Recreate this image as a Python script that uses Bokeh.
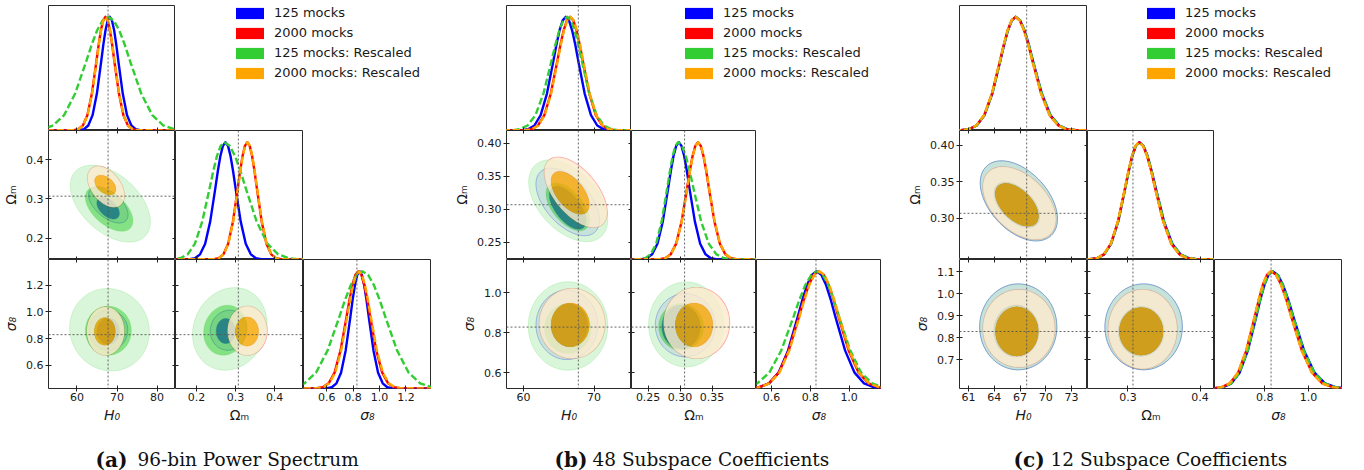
import numpy as np
from bokeh.plotting import figure
from bokeh.models import (Range1d, LinearAxis, FixedTicker, Span, Legend, LegendItem,
                          ColumnDataSource, Spacer, PrintfTickFormatter)
from bokeh.layouts import row, column
from bokeh.embed import file_html
from bokeh.resources import INLINE
from bokeh.core.properties import value

# ------------------------------------------------------------------ data
LEGEND_LABELS = ["125 mocks", "2000 mocks", "125 mocks: Rescaled", "2000 mocks: Rescaled"]
SERIES = ["blue", "red", "green", "orange"]
TITLE_TAGS = ["(a)", "(b)", "(c)"]
TITLE_TEXTS = ["96-bin Power Spectrum", "48 Subspace Coefficients", "12 Subspace Coefficients"]
FID_H0, FID_OM, FID_S8 = 67.77, 0.307, 0.829

# 1D marginals: x positions (per curve) at which each curve reaches these heights
H_LEVELS = [0.0, 0.002, 0.011, 0.044, 0.135, 0.325, 0.607, 0.755, 0.882, 0.969, 1.0,
            0.969, 0.882, 0.755, 0.607, 0.325, 0.135, 0.044, 0.011, 0.002, 0.0]

# (a) 96-bin power spectrum
a_h0_blue = [40, 60.68, 61.75, 62.83, 63.9, 64.98, 66.05, 66.59, 67.13, 67.66, 68.2, 68.74, 69.28, 69.82, 70.35, 71.43, 72.5, 73.58, 74.65, 75.73, 95]
a_h0_red = [40, 59.23, 60.35, 61.48, 62.6, 63.73, 64.85, 65.42, 65.98, 66.54, 67.1, 67.67, 68.23, 68.79, 69.35, 70.48, 71.6, 72.73, 73.85, 74.98, 95]
a_h0_green = [30, 48.55, 51.3, 54.05, 56.8, 59.55, 62.3, 63.68, 65.05, 66.43, 67.8, 69.18, 70.55, 71.93, 73.3, 76.05, 78.8, 81.55, 84.3, 87.05, 100]
a_h0_orange = [40, 59.28, 60.4, 61.53, 62.65, 63.78, 64.9, 65.47, 66.03, 66.59, 67.15, 67.72, 68.28, 68.84, 69.4, 70.53, 71.65, 72.78, 73.9, 75.03, 95]
a_om_blue = [0.05, 0.183, 0.196, 0.209, 0.222, 0.235, 0.248, 0.2545, 0.261, 0.2675, 0.274, 0.2805, 0.287, 0.2935, 0.300, 0.313, 0.326, 0.339, 0.352, 0.365, 0.6]
a_om_red = [0.05, 0.2443, 0.2565, 0.2688, 0.281, 0.2933, 0.3055, 0.3117, 0.3178, 0.3239, 0.330, 0.3362, 0.3423, 0.3484, 0.3545, 0.3668, 0.379, 0.3913, 0.4035, 0.4158, 0.6]
a_om_green = [0.05, 0.1394, 0.1582, 0.177, 0.1958, 0.2146, 0.2334, 0.2428, 0.2522, 0.2616, 0.271, 0.2848, 0.2986, 0.3124, 0.3262, 0.3538, 0.3814, 0.409, 0.4366, 0.4642, 0.6]
a_om_orange = [0.05, 0.2448, 0.257, 0.2693, 0.2815, 0.2938, 0.306, 0.3122, 0.3183, 0.3244, 0.3305, 0.3367, 0.3428, 0.3489, 0.355, 0.3673, 0.3795, 0.3918, 0.404, 0.4163, 0.6]
a_s8_blue = [0.2, 0.604, 0.639, 0.674, 0.709, 0.744, 0.779, 0.7965, 0.814, 0.8315, 0.849, 0.8665, 0.884, 0.9015, 0.919, 0.954, 0.989, 1.024, 1.059, 1.094, 1.6]
a_s8_red = [0.2, 0.525, 0.570, 0.615, 0.660, 0.705, 0.750, 0.7725, 0.795, 0.8175, 0.840, 0.8625, 0.885, 0.9075, 0.930, 0.975, 1.020, 1.065, 1.110, 1.155, 1.6]
a_s8_green = [0.1, 0.2575, 0.345, 0.4325, 0.52, 0.6075, 0.695, 0.7388, 0.7825, 0.8263, 0.87, 0.9138, 0.9575, 1.0013, 1.045, 1.1325, 1.22, 1.3075, 1.395, 1.4825, 1.7]
a_s8_orange = [0.2, 0.53, 0.575, 0.62, 0.665, 0.71, 0.755, 0.7775, 0.8, 0.8225, 0.845, 0.8675, 0.89, 0.9125, 0.935, 0.98, 1.025, 1.07, 1.115, 1.16, 1.6]

# (b) 48 subspace coefficients
b_h0_blue = [50, 59.77, 60.66, 61.55, 62.44, 63.33, 64.22, 64.67, 65.11, 65.56, 66.0, 66.45, 66.89, 67.34, 67.78, 68.67, 69.56, 70.45, 71.34, 72.23, 85]
b_h0_red = [50, 60.23, 61.14, 62.05, 62.96, 63.87, 64.78, 65.24, 65.69, 66.15, 66.6, 67.06, 67.51, 67.97, 68.42, 69.33, 70.24, 71.15, 72.06, 72.97, 85]
b_h0_green = [50, 58.33, 59.45, 60.58, 61.7, 62.83, 63.95, 64.52, 65.08, 65.64, 66.2, 66.72, 67.24, 67.76, 68.28, 69.32, 70.36, 71.4, 72.44, 73.48, 85]
b_h0_orange = [50, 60.28, 61.19, 62.1, 63.01, 63.92, 64.83, 65.29, 65.74, 66.2, 66.65, 67.11, 67.56, 68.02, 68.47, 69.38, 70.29, 71.2, 72.11, 73.02, 85]
b_om_blue = [0.15, 0.2396, 0.2479, 0.2563, 0.2646, 0.273, 0.2813, 0.2855, 0.2897, 0.2939, 0.298, 0.3022, 0.3064, 0.3106, 0.3147, 0.3231, 0.3314, 0.3398, 0.3481, 0.3565, 0.5]
b_om_red = [0.15, 0.2682, 0.2767, 0.2853, 0.2938, 0.3024, 0.3109, 0.3152, 0.3195, 0.3238, 0.328, 0.3323, 0.3366, 0.3409, 0.3451, 0.3537, 0.3622, 0.3708, 0.3793, 0.3879, 0.5]
b_om_green = [0.15, 0.2368, 0.2454, 0.254, 0.2626, 0.2712, 0.2798, 0.2841, 0.2884, 0.2927, 0.297, 0.303, 0.309, 0.315, 0.3209, 0.3329, 0.3448, 0.3568, 0.3687, 0.3807, 0.5]
b_om_orange = [0.15, 0.2685, 0.277, 0.2856, 0.2941, 0.3027, 0.3112, 0.3155, 0.3198, 0.3241, 0.3283, 0.3326, 0.3369, 0.3412, 0.3454, 0.354, 0.3625, 0.3711, 0.3796, 0.3882, 0.5]
b_s8_blue = [0.3, 0.489, 0.538, 0.587, 0.636, 0.685, 0.734, 0.7585, 0.783, 0.8075, 0.832, 0.8565, 0.881, 0.9055, 0.930, 0.979, 1.028, 1.077, 1.126, 1.175, 1.4]
b_s8_red = [0.3, 0.4825, 0.534, 0.5855, 0.637, 0.6885, 0.740, 0.7658, 0.7915, 0.8173, 0.843, 0.8688, 0.8945, 0.9203, 0.946, 0.9975, 1.049, 1.1005, 1.152, 1.2035, 1.4]
b_s8_green = [0.2, 0.402, 0.464, 0.526, 0.588, 0.650, 0.712, 0.743, 0.774, 0.805, 0.836, 0.8643, 0.8925, 0.9208, 0.949, 1.0055, 1.062, 1.1185, 1.175, 1.2315, 1.4]
b_s8_orange = [0.3, 0.4855, 0.537, 0.5885, 0.64, 0.6915, 0.743, 0.7688, 0.7945, 0.8203, 0.846, 0.8718, 0.8975, 0.9233, 0.949, 1.0005, 1.052, 1.1035, 1.155, 1.2065, 1.4]

# (c) 12 subspace coefficients
c_h0_blue = [50, 60.13, 61.04, 61.95, 62.86, 63.77, 64.68, 65.14, 65.59, 66.05, 66.5, 67.01, 67.51, 68.02, 68.52, 69.53, 70.54, 71.55, 72.56, 73.57, 85]
c_h0_red = [50, 60.1, 61.01, 61.92, 62.83, 63.74, 64.65, 65.11, 65.56, 66.02, 66.47, 66.97, 67.47, 67.97, 68.46, 69.46, 70.45, 71.45, 72.44, 73.44, 85]
c_h0_green = [50, 60.12, 61.03, 61.94, 62.85, 63.76, 64.67, 65.13, 65.58, 66.04, 66.49, 67.0, 67.5, 68.01, 68.51, 69.52, 70.53, 71.54, 72.55, 73.56, 85]
c_h0_orange = [50, 60.08, 60.99, 61.9, 62.81, 63.72, 64.63, 65.09, 65.54, 66.0, 66.45, 66.95, 67.45, 67.95, 68.44, 69.44, 70.43, 71.43, 72.42, 73.42, 85]
c_om_blue = [0.2, 0.2476, 0.2573, 0.2671, 0.2768, 0.2866, 0.2963, 0.3012, 0.3061, 0.311, 0.3158, 0.3215, 0.3272, 0.3329, 0.3386, 0.35, 0.3614, 0.3728, 0.3842, 0.3956, 0.5]
c_om_red = [0.2, 0.2473, 0.257, 0.2668, 0.2765, 0.2863, 0.296, 0.3009, 0.3058, 0.3107, 0.3155, 0.3211, 0.3267, 0.3323, 0.3378, 0.349, 0.3601, 0.3713, 0.3824, 0.3936, 0.5]
c_om_green = [0.2, 0.2475, 0.2572, 0.267, 0.2767, 0.2865, 0.2962, 0.3011, 0.306, 0.3109, 0.3157, 0.3214, 0.3271, 0.3328, 0.3385, 0.3499, 0.3613, 0.3727, 0.3841, 0.3955, 0.5]
c_om_orange = [0.2, 0.2471, 0.2568, 0.2666, 0.2763, 0.2861, 0.2958, 0.3007, 0.3056, 0.3105, 0.3153, 0.3209, 0.3265, 0.3321, 0.3376, 0.3488, 0.3599, 0.3711, 0.3822, 0.3934, 0.5]
c_s8_blue = [0.4, 0.5721, 0.6098, 0.6475, 0.6852, 0.7229, 0.7606, 0.7795, 0.7983, 0.8172, 0.836, 0.86, 0.884, 0.908, 0.932, 0.980, 1.028, 1.076, 1.124, 1.172, 1.3]
c_s8_red = [0.4, 0.5651, 0.6028, 0.6405, 0.6782, 0.7159, 0.7536, 0.7725, 0.7913, 0.8102, 0.829, 0.8525, 0.8759, 0.8994, 0.9228, 0.9697, 1.0166, 1.0635, 1.1104, 1.1573, 1.3]
c_s8_green = [0.4, 0.5711, 0.6088, 0.6465, 0.6842, 0.7219, 0.7596, 0.7785, 0.7973, 0.8162, 0.835, 0.859, 0.883, 0.907, 0.931, 0.979, 1.027, 1.075, 1.123, 1.171, 1.3]
c_s8_orange = [0.4, 0.5641, 0.6018, 0.6395, 0.6772, 0.7149, 0.7526, 0.7715, 0.7903, 0.8092, 0.828, 0.8515, 0.8749, 0.8984, 0.9218, 0.9687, 1.0156, 1.0625, 1.1094, 1.1563, 1.3]

# 2D credible regions: [outer 95%, inner 68%], each [centre x, centre y, half-extent x, half-extent y, correlation]
a21_blue = [[67.83, 0.2849, 4.93, 0.0461, -0.55], [67.78, 0.2766, 2.8, 0.0277, -0.48]]
a21_red = [[67.25, 0.331, 4.58, 0.0521, -0.43], [67.08, 0.3353, 2.68, 0.0252, -0.42]]
a21_green = [[68.33, 0.2879, 10.0, 0.0977, -0.47], [68.03, 0.2743, 5.95, 0.0567, -0.53]]
a21_orange = [[67.25, 0.331, 4.58, 0.0521, -0.43], [67.08, 0.3353, 2.68, 0.0252, -0.42]]
a31_blue = [[67.88, 0.8623, 4.8, 0.15, 0.0], [67.8, 0.855, 2.8, 0.1, 0.0]]
a31_red = [[67.15, 0.856, 4.67, 0.1815, 0.0], [66.95, 0.8533, 2.63, 0.104, 0.0]]
a31_green = [[68.13, 0.866, 9.95, 0.309, -0.05], [67.83, 0.8585, 5.75, 0.1838, 0.0]]
a31_orange = [[67.15, 0.856, 4.67, 0.1815, 0.0], [66.95, 0.8533, 2.63, 0.104, 0.0]]
a32_blue = [[0.282, 0.8623, 0.0469, 0.15, 0.05], [0.2749, 0.8563, 0.0244, 0.0938, 0.0]]
a32_red = [[0.33, 0.8585, 0.0505, 0.1838, 0.0], [0.3292, 0.8525, 0.03, 0.11, 0.0]]
a32_green = [[0.2851, 0.872, 0.0954, 0.31, 0.13], [0.2736, 0.8623, 0.0556, 0.1876, 0.1]]
a32_orange = [[0.33, 0.8585, 0.0505, 0.1838, 0.0], [0.3292, 0.8525, 0.03, 0.11, 0.0]]

b21_blue = [[66.27, 0.3113, 4.5, 0.0513, -0.53], [66.27, 0.3025, 2.6, 0.0326, -0.6]]
b21_red = [[67.4, 0.3258, 4.44, 0.0532, -0.57], [66.62, 0.325, 2.72, 0.0326, -0.55]]
b21_green = [[66.34, 0.313, 5.6, 0.062, -0.46], [66.27, 0.3038, 3.08, 0.0363, -0.55]]
b21_orange = [[67.4, 0.3258, 4.44, 0.0532, -0.57], [66.62, 0.325, 2.72, 0.0326, -0.55]]
b31_blue = [[66.15, 0.84, 4.37, 0.1735, 0.0], [66.5, 0.8385, 2.6, 0.1083, 0.0]]
b31_red = [[66.9, 0.847, 4.65, 0.175, 0.0], [66.62, 0.84, 2.72, 0.11, 0.0]]
b31_green = [[66.31, 0.8345, 5.63, 0.221, 0.0], [66.27, 0.822, 3.3, 0.125, 0.0]]
b31_orange = [[66.9, 0.847, 4.65, 0.175, 0.0], [66.62, 0.84, 2.72, 0.11, 0.0]]
b32_blue = [[0.3081, 0.8385, 0.0469, 0.1583, 0.0], [0.3016, 0.83, 0.03, 0.1083, 0.0]]
b32_red = [[0.3258, 0.8495, 0.0516, 0.1775, 0.0], [0.3219, 0.84, 0.0294, 0.11, 0.0]]
b32_green = [[0.3094, 0.8425, 0.0586, 0.2125, 0.0], [0.3016, 0.83, 0.0352, 0.1167, 0.0]]
b32_orange = [[0.3258, 0.8495, 0.0516, 0.1775, 0.0], [0.3219, 0.84, 0.0294, 0.11, 0.0]]

c21_blue = [[66.86, 0.324, 4.49, 0.0546, -0.45], [66.63, 0.3186, 2.67, 0.0311, -0.51]]
c21_red = [[66.92, 0.3209, 4.24, 0.0495, -0.45], [66.63, 0.3186, 2.52, 0.0294, -0.52]]
c21_green = [[66.86, 0.324, 4.49, 0.0546, -0.45], [66.63, 0.3186, 2.64, 0.0308, -0.51]]
c21_orange = [[66.92, 0.3209, 4.24, 0.0495, -0.45], [66.63, 0.3186, 2.52, 0.0294, -0.52]]
c31_blue = [[66.79, 0.85, 4.49, 0.195, 0.0], [66.57, 0.831, 2.64, 0.118, 0.0]]
c31_red = [[66.86, 0.843, 4.18, 0.176, 0.0], [66.63, 0.829, 2.5, 0.112, 0.0]]
c31_green = [[66.79, 0.85, 4.49, 0.195, 0.0], [66.57, 0.831, 2.62, 0.117, 0.0]]
c31_orange = [[66.86, 0.843, 4.18, 0.176, 0.0], [66.63, 0.829, 2.5, 0.112, 0.0]]
c32_blue = [[0.3218, 0.85, 0.0536, 0.195, 0.0], [0.3184, 0.8295, 0.0318, 0.1135, 0.0]]
c32_red = [[0.3204, 0.8395, 0.0476, 0.18, 0.0], [0.3184, 0.8295, 0.0304, 0.1084, 0.0]]
c32_green = [[0.3218, 0.85, 0.0536, 0.195, 0.0], [0.3184, 0.8295, 0.0316, 0.113, 0.0]]
c32_orange = [[0.3204, 0.8395, 0.0476, 0.18, 0.0], [0.3184, 0.8295, 0.0304, 0.1084, 0.0]]

# axis ranges, ticks and tick labels
a_ranges = {"h0": (52.9, 84.6), "om": (0.146, 0.474), "s8": (0.425, 1.393)}
b_ranges = {"h0": (57.6, 75.3), "om": (0.224, 0.4195), "s8": (0.522, 1.167)}
c_ranges = {"h0": (59.95, 74.85), "om": (0.244, 0.420), "s8": (0.570, 1.156)}
a_ticks = {"h0": [60, 70, 80], "omx": [0.2, 0.3, 0.4], "omy": [0.2, 0.3, 0.4],
           "s8x": [0.6, 0.8, 1.0, 1.2], "s8y": [0.6, 0.8, 1.0, 1.2]}
a_labels = {"h0": ["60", "70", "80"], "omx": ["0.2", "0.3", "0.4"], "omy": ["0.2", "0.3", "0.4"],
            "s8x": ["0.6", "0.8", "1.0", "1.2"], "s8y": ["0.6", "0.8", "1.0", "1.2"]}
b_ticks = {"h0": [60, 70], "omx": [0.25, 0.30, 0.35], "omy": [0.25, 0.30, 0.35, 0.40],
           "s8x": [0.6, 0.8, 1.0], "s8y": [0.6, 0.8, 1.0]}
b_labels = {"h0": ["60", "70"], "omx": ["0.25", "0.30", "0.35"], "omy": ["0.25", "0.30", "0.35", "0.40"],
            "s8x": ["0.6", "0.8", "1.0"], "s8y": ["0.6", "0.8", "1.0"]}
c_ticks = {"h0": [61, 64, 67, 70, 73], "omx": [0.3, 0.4], "omy": [0.30, 0.35, 0.40],
           "s8x": [0.8, 1.0], "s8y": [0.7, 0.8, 0.9, 1.0, 1.1]}
c_labels = {"h0": ["61", "64", "67", "70", "73"], "omx": ["0.3", "0.4"], "omy": ["0.30", "0.35", "0.40"],
            "s8x": ["0.8", "1.0"], "s8y": ["0.7", "0.8", "0.9", "1.0", "1.1"]}

# ------------------------------------------------------------------ styles / layout
LINE_COLORS = {"blue": "#0000ff", "red": "#ff0000", "green": "#32cd32", "orange": "#ffa500"}
LINE_DASH = {"blue": "solid", "red": "solid", "green": "7 3", "orange": "7 3"}
OUTER_FILL = {"blue": ("#9999ff", 0.35), "red": (None, 0), "green": ("#adebad", 0.45), "orange": ("#fcebcd", 0.8)}
INNER_FILL = {"blue": ("#0000ff", 0.9), "red": (None, 0), "green": ("#32cd32", 0.6), "orange": ("#ffa500", 0.78)}
EDGE = {"blue": ("#0000ff", 0.55, 0.8), "red": ("#ff0000", 0.4, 1.2), "green": ("#32cd32", 0.3, 0.6), "orange": (None, 0, 0)}

FH, TOP, BOT = 129, 1, 45
DIAG_Y = (0.0, 1.1)
INK = "#1a1a1a"
H0_LABEL, OM_LABEL, S8_LABEL = "H\u2080", "\u03a9\u2098", "\u03c3\u2088"
T = np.linspace(0.0, 2.0 * np.pi, 121)


def make_fig(xr, yr, w, h, left=0, top=0, bottom=0):
    p = figure(width=w, height=h, x_range=Range1d(*xr), y_range=Range1d(*yr),
               x_axis_type=None, y_axis_type=None, toolbar_location=None,
               output_backend="svg", min_border_left=left, min_border_right=0,
               min_border_top=top, min_border_bottom=bottom)
    p.outline_line_color = "#2a2a2a"
    p.outline_line_width = 1
    p.background_fill_color = "white"
    p.border_fill_color = "white"
    return p


def axis(p, side, ticks, labels=None, title=None, italic=False, fixed=None, out=0):
    ax = LinearAxis(ticker=FixedTicker(ticks=list(ticks)))
    ax.axis_line_color = None
    ax.major_tick_line_color = "#222222"
    ax.major_tick_line_width = 1
    ax.major_tick_in = 3
    ax.major_tick_out = out
    ax.minor_tick_line_color = None
    if labels is None:
        ax.major_label_text_color = None
        ax.major_label_text_font_size = "0px"
        ax.major_label_standoff = 0
    else:
        dec = max((len(s.split(".")[1]) if "." in s else 0) for s in labels)
        ax.formatter = PrintfTickFormatter(format="%%.%df" % dec)
        ax.major_label_overrides = {float(t): s for t, s in zip(ticks, labels)}
        ax.major_label_text_font = "DejaVu Sans"
        ax.major_label_text_font_size = "11px"
        ax.major_label_text_color = INK
        ax.major_label_standoff = 2 if side == "left" else 1
    if title is not None:
        ax.axis_label = title
        ax.axis_label_text_font = "DejaVu Sans"
        ax.axis_label_text_font_size = "14px"
        ax.axis_label_text_font_style = "italic" if italic else "normal"
        ax.axis_label_text_color = INK
        ax.axis_label_standoff = 4 if side == "left" else 3
    if fixed is not None:
        ax.fixed_location = fixed
    p.add_layout(ax, side)


def spans(p, vx=None, hy=None):
    if vx is not None:
        p.add_layout(Span(location=vx, dimension="height", line_color="#555555",
                          line_width=0.9, line_dash="2 2"))
    if hy is not None:
        p.add_layout(Span(location=hy, dimension="width", line_color="#555555",
                          line_width=0.9, line_dash="2 2"))


def draw_1d(p, curves):
    for s in SERIES:
        p.line(x=curves[s], y=H_LEVELS, line_color=LINE_COLORS[s], line_width=2.4,
               line_dash=LINE_DASH[s], line_join="round")


def ring(c):
    cx, cy, wx, wy, rho = c
    xs = cx + wx * np.cos(T)
    ys = cy + wy * (rho * np.cos(T) + np.sqrt(1.0 - rho ** 2) * np.sin(T))
    return list(xs), list(ys)


def draw_2d(p, cont):
    for s in SERIES:
        outer, inner = cont[s]
        ox, oy = ring(outer)
        ix, iy = ring(inner)
        lc, la, lw = EDGE[s]
        fc, fa = OUTER_FILL[s]
        p.multi_polygons(xs=[[[ox, ix[::-1]]]], ys=[[[oy, iy[::-1]]]],
                         fill_color=fc, fill_alpha=fa,
                         line_color=lc, line_alpha=la, line_width=max(lw, 0.1))
        fc, fa = INNER_FILL[s]
        if fc is not None:
            p.multi_polygons(xs=[[[ix]]], ys=[[[iy]]], fill_color=fc, fill_alpha=fa,
                             line_color=None)


def legend_fig(w, h, left, top):
    p = figure(width=w, height=h, x_range=Range1d(0, 1), y_range=Range1d(0, 1),
               x_axis_type=None, y_axis_type=None, toolbar_location=None,
               output_backend="svg", min_border_left=left, min_border_right=0,
               min_border_top=top, min_border_bottom=0)
    p.outline_line_color = None
    items = []
    for lab, s in zip(LEGEND_LABELS, SERIES):
        # zero-area proxy renderer: only its legend swatch is shown
        src = ColumnDataSource(dict(left=[0.0], right=[0.0], top=[0.0], bottom=[0.0]))
        r = p.quad(left="left", right="right", top="top", bottom="bottom", source=src,
                   fill_color=LINE_COLORS[s], line_color=None)
        items.append(LegendItem(label=lab, renderers=[r]))
    leg = Legend(items=items, location="top_left", margin=0, padding=0,
                 glyph_width=35, glyph_height=14, label_standoff=7, spacing=5,
                 label_height=15, label_text_font="DejaVu Sans",
                 label_text_font_size="13px", label_text_color=INK,
                 border_line_color=None, background_fill_alpha=0)
    p.add_layout(leg)
    return p


def build_corner(rng, tk, lab, curves, cont, widths, L, leg_left):
    w1, w2, w3 = widths
    h0r, omr, s8r = rng["h0"], rng["om"], rng["s8"]
    # row 1
    d0 = make_fig(h0r, DIAG_Y, L + w1, TOP + FH, left=L, top=TOP)
    draw_1d(d0, curves["h0"])
    spans(d0, vx=FID_H0)
    axis(d0, "below", tk["h0"], fixed=DIAG_Y[0])
    leg = legend_fig(w2 + w3, TOP + FH, leg_left, 5)
    # row 2
    p10 = make_fig(h0r, omr, L + w1, FH, left=L)
    draw_2d(p10, cont["p10"])
    spans(p10, vx=FID_H0, hy=FID_OM)
    axis(p10, "left", tk["omy"], lab["omy"], title=OM_LABEL, out=3)
    axis(p10, "below", tk["h0"], fixed=omr[0])
    axis(p10, "above", tk["h0"], fixed=omr[1])
    axis(p10, "right", tk["omy"], fixed=h0r[1])
    d1 = make_fig(omr, DIAG_Y, w2, FH)
    draw_1d(d1, curves["om"])
    spans(d1, vx=FID_OM)
    axis(d1, "below", tk["omx"], fixed=DIAG_Y[0])
    sp = Spacer(width=w3, height=FH)
    # row 3
    p20 = make_fig(h0r, s8r, L + w1, FH + BOT, left=L, bottom=BOT)
    draw_2d(p20, cont["p20"])
    spans(p20, vx=FID_H0, hy=FID_S8)
    axis(p20, "left", tk["s8y"], lab["s8y"], title=S8_LABEL, italic=True, out=3)
    axis(p20, "below", tk["h0"], lab["h0"], title=H0_LABEL, italic=True, out=3)
    axis(p20, "above", tk["h0"], fixed=s8r[1])
    axis(p20, "right", tk["s8y"], fixed=h0r[1])
    p21 = make_fig(omr, s8r, w2, FH + BOT, bottom=BOT)
    draw_2d(p21, cont["p21"])
    spans(p21, vx=FID_OM, hy=FID_S8)
    axis(p21, "below", tk["omx"], lab["omx"], title=OM_LABEL, out=3)
    axis(p21, "left", tk["s8y"], fixed=omr[0])
    axis(p21, "above", tk["omx"], fixed=s8r[1])
    axis(p21, "right", tk["s8y"], fixed=omr[1])
    d2 = make_fig(s8r, DIAG_Y, w3, FH + BOT, bottom=BOT)
    draw_1d(d2, curves["s8"])
    spans(d2, vx=FID_S8)
    axis(d2, "below", tk["s8x"], lab["s8x"], title=S8_LABEL, italic=True, out=3)
    return column(row(d0, leg), row(p10, d1, sp), row(p20, p21, d2))


def pack(prefix):
    g = globals()
    curves = {v: {s: g["%s_%s_%s" % (prefix, v, s)] for s in SERIES} for v in ("h0", "om", "s8")}
    cont = {k: {s: g["%s%s_%s" % (prefix, n, s)] for s in SERIES}
            for k, n in (("p10", "21"), ("p20", "31"), ("p21", "32"))}
    return curves, cont


ca, ka = pack("a")
cb, kb = pack("b")
cc, kc = pack("c")
corner_a = build_corner(a_ranges, a_ticks, a_labels, ca, ka, (127, 128, 128), 48, 57)
corner_b = build_corner(b_ranges, b_ticks, b_labels, cb, kb, (125, 125, 125), 75, 50)
corner_c = build_corner(c_ranges, c_ticks, c_labels, cc, kc, (128, 127, 128), 78, 56)

PAGE_W, TITLE_H = 1342, 37
tf = figure(width=PAGE_W, height=TITLE_H, x_range=Range1d(0, PAGE_W), y_range=Range1d(0, TITLE_H),
            x_axis_type=None, y_axis_type=None, toolbar_location=None, output_backend="svg",
            min_border=0)
tf.outline_line_color = None
TAG_X = [95, 554, 1013]
TXT_X = [137, 592, 1050]
BASE_Y = 11
tf.text(x=TAG_X, y=[BASE_Y] * 3, text=TITLE_TAGS, text_font=value("DejaVu Serif"),
        text_font_size="20px", text_font_style="bold", text_color="#111111",
        text_baseline="alphabetic", text_align="left")
tf.text(x=TXT_X, y=[BASE_Y] * 3, text=TITLE_TEXTS, text_font=value("DejaVu Serif"),
        text_font_size="18.5px", text_font_style="normal", text_color="#111111",
        text_baseline="alphabetic", text_align="left")

page = column(row(corner_a, corner_b, corner_c), tf)
open("out.html", "w").write(file_html(page, INLINE, title="Posterior comparison"))
